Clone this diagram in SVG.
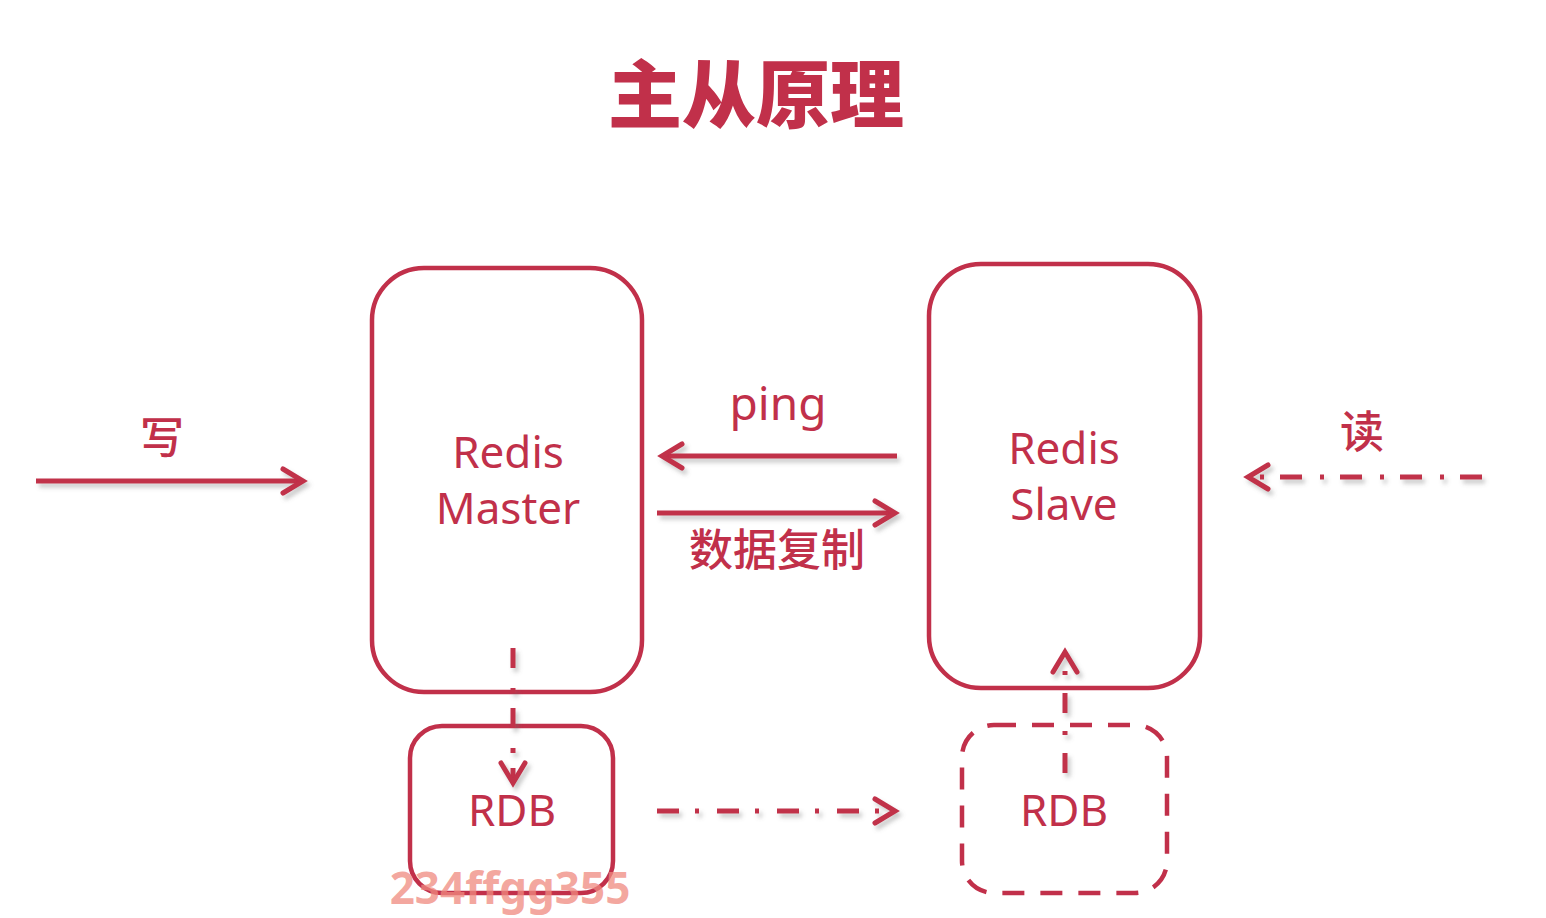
<svg xmlns="http://www.w3.org/2000/svg" width="1546" height="918" viewBox="0 0 1546 918">
  <defs>
    <style>
      .box { fill: none; stroke: #c1304a; stroke-width: 4.5; }
      .dbox { fill: none; stroke: #c1304a; stroke-width: 4.5; stroke-dasharray: 22 16; }
      .lbl { fill: #c1304a; font-family: "Noto Sans", "Open Sans", "Noto Sans CJK SC", sans-serif; text-anchor: middle; }
      .cjk { fill: #c1304a; font-family: "Noto Sans CJK SC", sans-serif; text-anchor: middle; font-weight: 500; }
      .conn { fill: none; stroke: #c1304a; stroke-width: 5; }
      .dd { stroke-dasharray: 22 16 4 18; }
      .dv { stroke-dasharray: 20 20 5 15; }
      .dv2 { stroke-dasharray: 20 18 4 18; }
    </style>
    <filter id="sh" filterUnits="userSpaceOnUse" x="0" y="0" width="1546" height="918">
      <feDropShadow dx="3" dy="4" stdDeviation="2" flood-color="#666" flood-opacity="0.35"/>
    </filter>
    <marker id="ah" markerUnits="userSpaceOnUse" viewBox="-24 -16 30 32" markerWidth="30" markerHeight="32" refX="0" refY="0" orient="auto" overflow="visible">
      <path d="M-20,-12 L0,0 L-20,12" fill="none" stroke="#c1304a" stroke-width="5" stroke-linejoin="miter" stroke-linecap="round"/>
    </marker>
  </defs>
  <rect width="1546" height="918" fill="#ffffff"/>

  <text id="title" x="756" y="122" class="cjk" font-size="74" font-weight="900" style="font-weight:900">主从原理</text>

  <g id="master">
    <rect x="372" y="268" width="270" height="424" rx="52" class="box"/>
    <text x="508" y="468" class="lbl" font-size="44">Redis</text>
    <text x="508" y="524" class="lbl" font-size="44">Master</text>
  </g>

  <g id="slave">
    <rect x="929" y="264" width="271" height="424" rx="52" class="box"/>
    <text x="1064" y="464" class="lbl" font-size="44">Redis</text>
    <text x="1064" y="520" class="lbl" font-size="44">Slave</text>
  </g>

  <g id="rdb-master">
    <rect x="410" y="726" width="203" height="167" rx="32" class="box"/>
    <text x="512" y="826" class="lbl" font-size="44">RDB</text>
  </g>

  <g id="rdb-slave">
    <rect x="962" y="725" width="205" height="168" rx="32" class="dbox"/>
    <text x="1064" y="826" class="lbl" font-size="44">RDB</text>
  </g>

  <g id="connectors" filter="url(#sh)">
    <path d="M36,481 L303,481" class="conn" marker-end="url(#ah)"/>
    <path d="M897,456 L662,456" class="conn" marker-end="url(#ah)"/>
    <path d="M657,513 L895,513" class="conn" marker-end="url(#ah)"/>
    <path d="M1482,477 L1248,477" class="conn dd" marker-end="url(#ah)"/>
    <path d="M657,811 L895,811" class="conn dd" marker-end="url(#ah)"/>
    <path d="M513,648 L513,783" class="conn dv" marker-end="url(#ah)"/>
    <path d="M1065,773 L1065,652" class="conn dv2" marker-end="url(#ah)"/>
  </g>

  <g id="labels">
    <text x="162" y="454" class="cjk" font-size="44">写</text>
    <text x="1362" y="448" class="cjk" font-size="44">读</text>
    <text x="778" y="420" class="lbl" font-size="46">ping</text>
    <text x="777" y="566" class="cjk" font-size="44">数据复制</text>
  </g>

  <text id="watermark" x="510" y="904" font-family="Noto Sans, Open Sans, sans-serif" font-weight="bold" font-size="44" fill="#f08a80" fill-opacity="0.75" text-anchor="middle">234ffgg355</text>
</svg>
